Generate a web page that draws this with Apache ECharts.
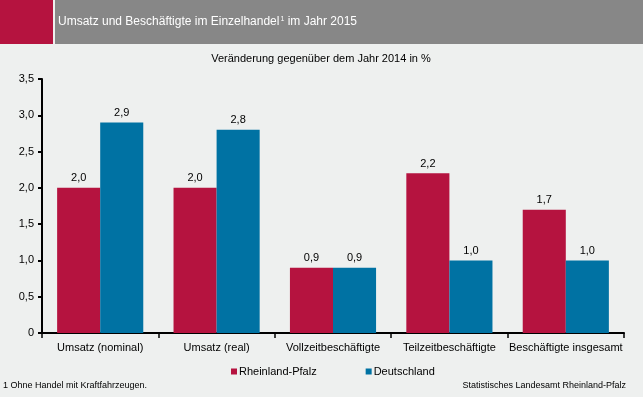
<!DOCTYPE html>
<html><head><meta charset="utf-8">
<script src="https://cdn.jsdelivr.net/npm/echarts@6/dist/echarts.min.js"></script>
<style>html,body{margin:0;padding:0;background:#EEF0EF;}#c{width:643px;height:397px;}</style>
</head><body><div id="c"></div>
<script>
const categories = ['Umsatz (nominal)', 'Umsatz (real)', 'Vollzeitbeschäftigte', 'Teilzeitbeschäftigte', 'Beschäftigte insgesamt'];
const rheinlandPfalz = [2.0, 2.0, 0.9, 2.2, 1.7];
const deutschland = [2.9, 2.8, 0.9, 1.0, 1.0];
const seriesNames = ['Rheinland-Pfalz', 'Deutschland'];
const yTicks = { min: 0, max: 3.5, interval: 0.5 };

const fmt = v => (v === 0 ? '0' : v.toFixed(1).replace('.', ','));
const font = 'Liberation Sans, Arial, sans-serif';
const chart = echarts.init(document.getElementById('c'), null, { renderer: 'canvas' });
chart.setOption({
  backgroundColor: '#EEF0EF',
  animation: false,
  graphic: [
    { type: 'rect', shape: { x: 0, y: 0, width: 53, height: 44 }, style: { fill: '#B5133F' } },
    { type: 'rect', shape: { x: 55, y: 0, width: 588, height: 44 }, style: { fill: '#878787' } },
    { type: 'text', x: 58, y: 22, style: {
        text: '{t|Umsatz und Beschäftigte im Einzelhandel}{s|1}{t| im Jahr 2015}',
        verticalAlign: 'middle',
        rich: {
          t: { fill: '#fff', fontSize: 12, fontFamily: font },
          s: { fill: '#fff', fontSize: 7, fontFamily: font, verticalAlign: 'top', padding: [0, 0, 5, 1] }
        } } },
    { type: 'text', x: 321, y: 59, style: { text: 'Veränderung gegenüber dem Jahr 2014 in %', fill: '#000', font: '11px ' + font, align: 'center', verticalAlign: 'middle' } },
    { type: 'text', x: 3, y: 386, style: { text: '1 Ohne Handel mit Kraftfahrzeugen.', fill: '#000', font: '9px ' + font, verticalAlign: 'middle' } },
    { type: 'text', x: 626, y: 386, style: { text: 'Statistisches Landesamt Rheinland-Pfalz', fill: '#000', font: '9px ' + font, align: 'right', verticalAlign: 'middle' } }
  ],
  legend: {
    data: seriesNames,
    top: 361, left: 226,
    itemWidth: 6, itemHeight: 6, itemGap: 49,
    icon: 'rect',
    textStyle: { fontSize: 11, fontFamily: font, color: '#000', padding: [0, 0, 0, -3] }
  },
  grid: { left: 42, right: 19, top: 79, bottom: 64, containLabel: false },
  xAxis: {
    type: 'category', data: categories,
    axisLine: { lineStyle: { color: '#000', width: 2 } },
    axisTick: { show: true, length: 5, lineStyle: { color: '#000', width: 1.5 } },
    axisLabel: { color: '#000', fontSize: 11, fontFamily: font, margin: 9, interval: 0 }
  },
  yAxis: {
    type: 'value', min: yTicks.min, max: yTicks.max, interval: yTicks.interval,
    axisLine: { show: true, lineStyle: { color: '#000', width: 2 } },
    axisTick: { show: true, length: 4, lineStyle: { color: '#000', width: 2 } },
    splitLine: { show: false },
    axisLabel: { color: '#000', fontSize: 11, fontFamily: font, margin: 8, formatter: fmt }
  },
  series: [
    { name: seriesNames[0], type: 'bar', data: rheinlandPfalz, barGap: '0%', barCategoryGap: '26%',
      itemStyle: { color: '#B5133F' },
      label: { show: true, position: 'top', distance: 4, color: '#000', fontSize: 11, fontFamily: font, formatter: p => fmt(p.value) } },
    { name: seriesNames[1], type: 'bar', data: deutschland, barGap: '0%', barCategoryGap: '26%',
      itemStyle: { color: '#0072A3' },
      label: { show: true, position: 'top', distance: 4, color: '#000', fontSize: 11, fontFamily: font, formatter: p => fmt(p.value) } }
  ]
});
</script></body></html>
